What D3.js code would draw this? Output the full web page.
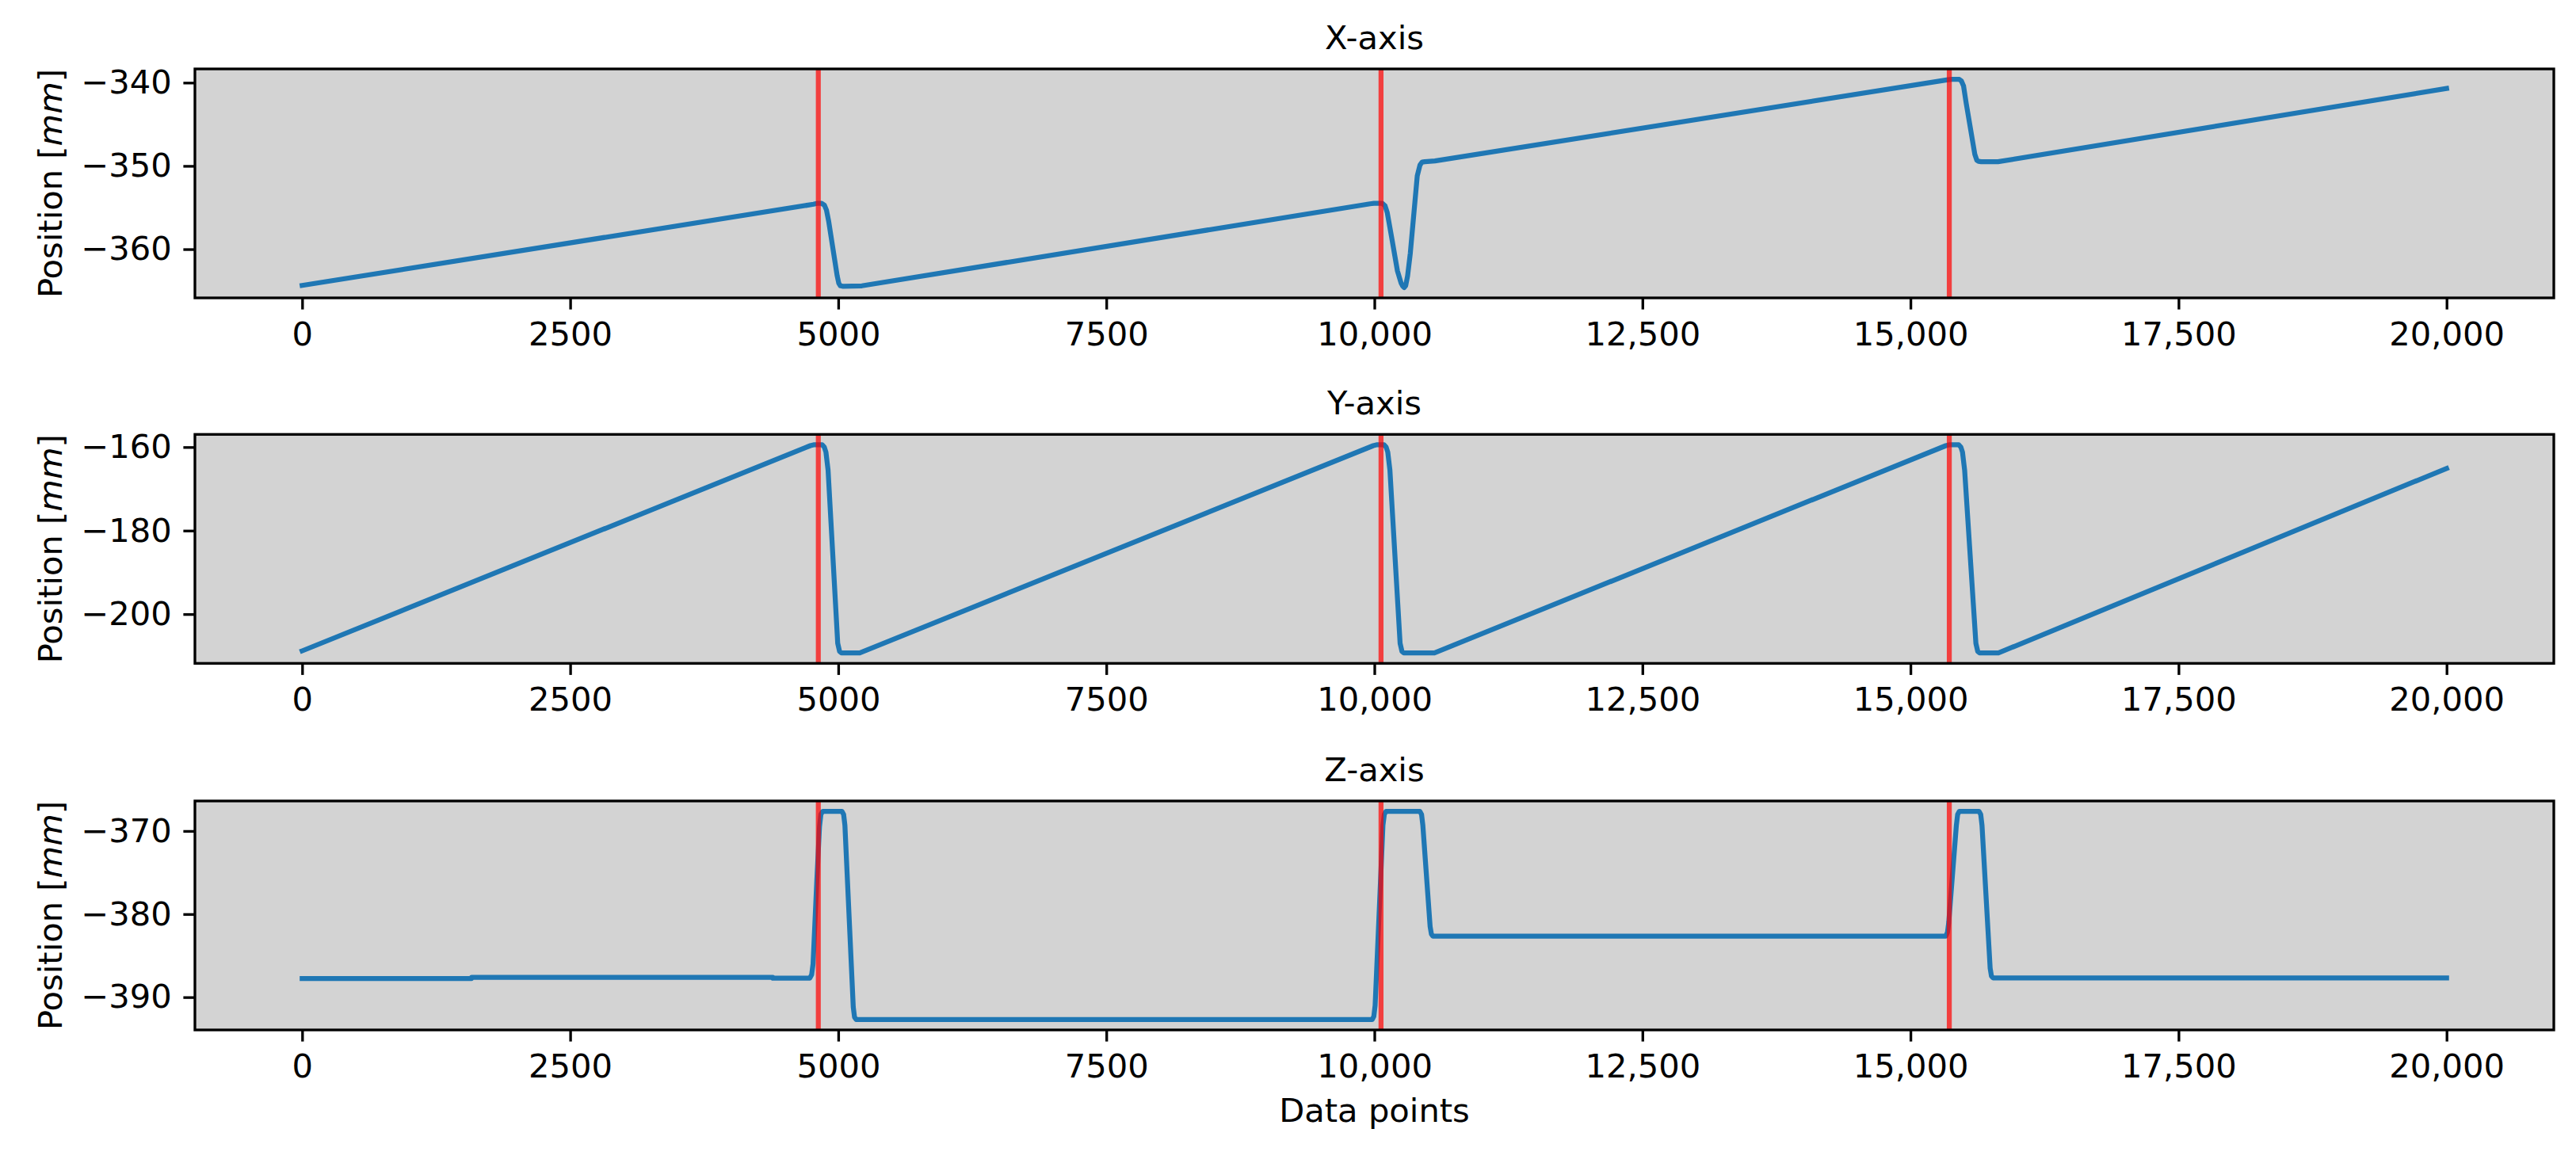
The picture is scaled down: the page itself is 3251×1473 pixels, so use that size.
<!DOCTYPE html>
<html><head><meta charset="utf-8">
<script src="https://cdn.jsdelivr.net/npm/d3@7"></script>
<style>html,body{margin:0;padding:0;background:#fff;}svg{display:block;font-family:"DejaVu Sans",sans-serif;}</style>
</head><body>
<svg id="chart" width="3251" height="1473"></svg>
<script>
// ---- data ----
const panelTitles = ["X-axis", "Y-axis", "Z-axis"];
const xTickValues = [0, 2500, 5000, 7500, 10000, 12500, 15000, 17500, 20000];
const xTickLabels = ["0", "2500", "5000", "7500", "10,000", "12,500", "15,000", "17,500", "20,000"];
const yTicksX = [-360, -350, -340];
const yTicksY = [-200, -180, -160];
const yTicksZ = [-390, -380, -370];
const markerIdx = [4814, 10062, 15362];

const xIdx = [0, 4770, 4800, 4845, 4870, 4890, 4910, 4990, 5005, 5020, 5045, 5220, 9960, 9995, 10075, 10100, 10120, 10160, 10215, 10250, 10265, 10278, 10292, 10310, 10335, 10400, 10425, 10445, 10470, 10565, 15350, 15385, 15455, 15475, 15495, 15520, 15600, 15618, 15635, 15660, 15816, 20000];
const xVal = [-364.35, -354.6, -354.5, -354.5, -354.7, -355.3, -356.6, -363.2, -364.1, -364.4, -364.45, -364.4, -354.55, -354.5, -354.5, -354.8, -355.6, -358.5, -362.6, -364.1, -364.45, -364.6, -364.4, -363.2, -360.5, -351.2, -349.9, -349.55, -349.5, -349.4, -339.65, -339.6, -339.6, -339.8, -340.4, -342.5, -348.6, -349.3, -349.45, -349.5, -349.5, -340.7];

const yIdx = [0, 4740, 4770, 4850, 4870, 4885, 4905, 4995, 5012, 5030, 5200, 9990, 10020, 10090, 10110, 10125, 10145, 10240, 10257, 10275, 10560, 15330, 15360, 15450, 15470, 15485, 15505, 15610, 15627, 15645, 15820, 20000];
const yVal = [-208.8, -159.65, -159.45, -159.45, -160.0, -161.2, -165.5, -207.0, -208.9, -209.3, -209.3, -159.65, -159.45, -159.45, -160.0, -161.2, -165.5, -207.0, -208.9, -209.3, -209.3, -159.65, -159.45, -159.45, -160.0, -161.2, -165.5, -207.0, -208.9, -209.3, -209.3, -165.1];

const zIdx = [0, 1580, 1581, 4390, 4391, 4735, 4752, 4765, 4800, 4825, 4838, 4855, 5035, 5050, 5062, 5140, 5152, 5168, 9980, 9995, 10007, 10080, 10093, 10108, 10425, 10440, 10452, 10520, 10532, 10545, 15330, 15345, 15357, 15428, 15440, 15455, 15640, 15655, 15667, 15743, 15755, 15770, 20000];
const zVal = [-387.75, -387.75, -387.62, -387.62, -387.72, -387.7, -387.3, -386.0, -376.0, -369.5, -368.0, -367.64, -367.64, -368.0, -369.3, -391.2, -392.4, -392.69, -392.69, -392.3, -391.0, -369.3, -368.0, -367.64, -367.64, -368.0, -369.3, -381.5, -382.4, -382.65, -382.65, -382.2, -381.0, -369.3, -368.0, -367.64, -367.64, -368.0, -369.3, -386.5, -387.45, -387.68, -387.68];

const seriesIdx = [xIdx, yIdx, zIdx];
const seriesVal = [xVal, yVal, zVal];
const yTicksAll = [yTicksX, yTicksY, yTicksZ];

// ---- layout ----
const svg = d3.select("#chart");
const left = 246, right = 3223;
const tops = [87, 548.3, 1011];
const ph = 289;
const font = 41.67;
const tickLen = 14.6, tickW = 3.33;

const x = d3.scaleLinear().domain([-1000, 21000]).range([left, right]);

svg.append("defs").selectAll("clipPath").data([0,1,2]).join("clipPath")
  .attr("id", d => "clip" + d)
  .append("rect").attr("x", left).attr("y", d => tops[d]).attr("width", right - left).attr("height", ph);

for (let i = 0; i < 3; i++) {
  const top = tops[i], bottom = top + ph;
  const vals = seriesVal[i];
  const mn = d3.min(vals), mx = d3.max(vals), r = mx - mn;
  const y = d3.scaleLinear().domain([mn - 0.05 * r, mx + 0.05 * r]).range([bottom, top]);
  const g = svg.append("g");

  g.append("rect").attr("x", left).attr("y", top).attr("width", right - left).attr("height", ph).attr("fill", "#d3d3d3");

  const pts = seriesIdx[i].map((d, k) => [d, vals[k]]);
  const line = d3.line().x(d => x(d[0])).y(d => y(d[1])).curve(d3.curveLinear);
  g.append("path").attr("d", line(pts)).attr("fill", "none").attr("stroke", "#1f77b4")
    .attr("stroke-width", 6.25).attr("stroke-linejoin", "round").attr("stroke-linecap", "square")
    .attr("clip-path", `url(#clip${i})`);

  g.selectAll("line.mk").data(markerIdx).join("line").attr("class", "mk")
    .attr("x1", d => x(d)).attr("x2", d => x(d)).attr("y1", top).attr("y2", bottom)
    .attr("stroke", "red").attr("stroke-opacity", 0.7).attr("stroke-width", 6.25);

  // x axis
  const xa = g.append("g").attr("transform", `translate(0,${bottom})`)
    .call(d3.axisBottom(x).tickValues(xTickValues).tickFormat((d, k) => xTickLabels[k]).tickSize(tickLen).tickPadding(16));
  xa.select(".domain").remove();
  xa.selectAll(".tick line").attr("stroke", "#000").attr("stroke-width", tickW);
  xa.selectAll(".tick text").attr("font-size", font).attr("font-family", "DejaVu Sans").attr("fill", "#000");

  // y axis
  const ya = g.append("g").attr("transform", `translate(${left},0)`)
    .call(d3.axisLeft(y).tickValues(yTicksAll[i]).tickFormat(d => d3.format(".0f")(d).replace("-", "\u2212")).tickSize(tickLen).tickPadding(14.6));
  ya.select(".domain").remove();
  ya.selectAll(".tick line").attr("stroke", "#000").attr("stroke-width", tickW);
  ya.selectAll(".tick text").attr("font-size", font).attr("font-family", "DejaVu Sans").attr("fill", "#000");

  // spines
  g.append("rect").attr("x", left).attr("y", top).attr("width", right - left).attr("height", ph)
    .attr("fill", "none").attr("stroke", "#000").attr("stroke-width", 3.33);

  // title
  g.append("text").attr("x", (left + right) / 2).attr("y", top - 25).attr("text-anchor", "middle")
    .attr("font-size", font).text(panelTitles[i]);

  // y label
  const yl = g.append("text").attr("transform", `translate(78,${(top + bottom) / 2}) rotate(-90)`)
    .attr("text-anchor", "middle").attr("font-size", font);
  yl.append("tspan").text("Position [");
  yl.append("tspan").attr("font-style", "italic").text("mm");
  yl.append("tspan").text("]");
}

svg.append("text").attr("x", (left + right) / 2).attr("y", 1416).attr("text-anchor", "middle")
  .attr("font-size", font).text("Data points");
</script>
</body></html>
